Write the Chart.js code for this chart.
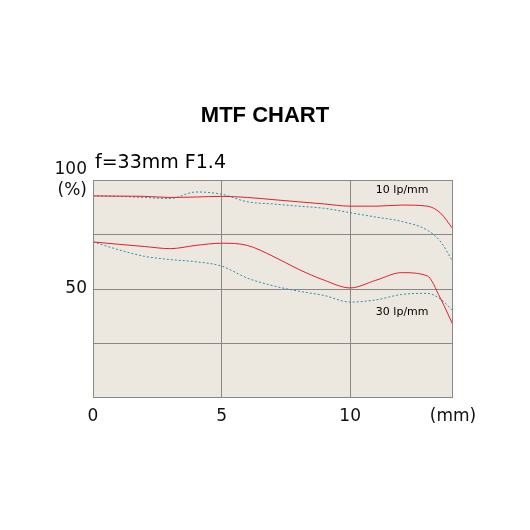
<!DOCTYPE html>
<html><head><meta charset="utf-8">
<script src="https://cdn.jsdelivr.net/npm/chart.js@4"></script>
<style>html,body{margin:0;background:#fff}#w{width:530px;height:530px}</style>
</head><body><div id="w"><canvas id="c"></canvas></div>
<script>
const xs = [0,1,2,3,4,5,6,7,8,9,10,11,12,13,13.5,14];
const red10 = [92.7,92.6,92.5,92,92.2,92.5,92,91,90,89,88,88,88.5,88,85,77.5];
const blue10 = [92.7,92.5,92,91.5,94.5,93.5,90,89,88,87,85,83,81,77,72,62.5];
const red30 = [71.6,70.5,69.5,68.5,70,71,70,65,59,54,50.5,54,57.5,56,46,33.5];
const blue30 = [71.6,68,65,63.5,62.5,60.5,55,51.5,49,47,44,45,47.5,48,45.5,40];
const xTicks = {0:'0',5:'5',10:'10',14:'(mm)'};
const yTicks = {100:['100','(%)'],50:'50'};
const pts = a => a.map((v,i)=>({x:xs[i],y:v}));
const mk = (d,c,dash) => ({data:pts(d),borderColor:c,borderWidth:1,borderDash:dash,pointRadius:0,tension:0.4,cubicInterpolationMode:'monotone'});
const deco = {id:'deco',
 beforeDraw(ch){const {ctx,chartArea:a}=ch;ctx.save();ctx.fillStyle='#ece8df';ctx.fillRect(a.left,a.top,a.right-a.left,a.bottom-a.top);ctx.restore();},
 afterDraw(ch){const {ctx,chartArea:a,scales:{x,y}}=ch;ctx.save();
  ctx.strokeStyle='#888';ctx.lineWidth=1;ctx.strokeRect(a.left+0.5,a.top+0.5,a.right-a.left-1,a.bottom-a.top-1);
  ctx.fillStyle='#000';ctx.textAlign='center';ctx.font='bold 22px "Liberation Sans", Arial';ctx.fillText('MTF CHART',265,122);
  ctx.textAlign='left';ctx.font='19px "DejaVu Sans"';ctx.fillText('f=33mm F1.4',95,168);
  ctx.font='11px "DejaVu Sans"';ctx.fillText('10 lp/mm',x.getPixelForValue(11),y.getPixelForValue(94));
  ctx.fillText('30 lp/mm',x.getPixelForValue(11),y.getPixelForValue(38));
  ctx.restore();}};
new Chart(document.getElementById('c'),{type:'line',
 data:{datasets:[mk(red10,'#e0202a',[]),mk(blue10,'#2a8fb0',[2,2]),mk(red30,'#e0202a',[]),mk(blue30,'#2a8fb0',[2,2])]},
 options:{responsive:true,maintainAspectRatio:false,animation:false,
  layout:{padding:{top:180,right:77,left:0,bottom:0}},
  plugins:{legend:{display:false},tooltip:{enabled:false}},
  scales:{
   x:{type:'linear',min:0,max:14,border:{display:false},
    afterBuildTicks(s){s.ticks=[0,5,10,14].map(v=>({value:v}));},
    afterFit(s){s.height=132;},
    grid:{color:c=>[5,10].includes(c.tick.value)?'#888':'rgba(0,0,0,0)',drawTicks:false},
    ticks:{padding:8,color:'#111',font:{size:17,family:'"DejaVu Sans"'},callback:v=>xTicks[v]||'',maxRotation:0}},
   y:{min:0,max:100,border:{display:false},
    afterBuildTicks(s){s.ticks=[0,25,50,75,100].map(v=>({value:v}));},
    afterFit(s){s.width=93;},
    grid:{color:c=>[25,50,75].includes(c.tick.value)?'#888':'rgba(0,0,0,0)',drawTicks:false},
    ticks:{padding:6,color:'#111',font:{size:17,family:'"DejaVu Sans"'},callback:v=>yTicks[v]||''}}}},
 plugins:[deco]});
</script></body></html>
